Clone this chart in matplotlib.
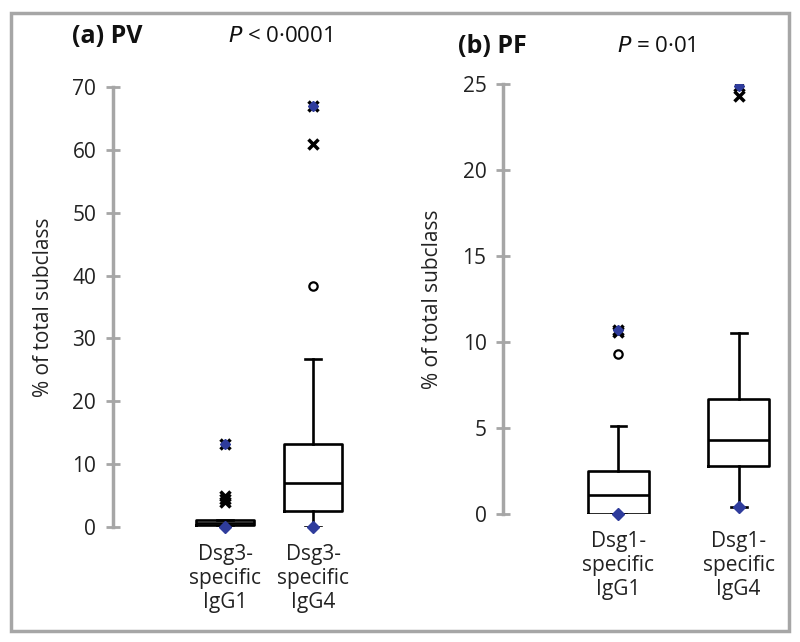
import matplotlib.pyplot as plt
from matplotlib.patches import Rectangle

plt.rcParams['font.family'] = ['Open Sans', 'DejaVu Sans']

# Panel (a) PV: box summaries
pv_labels = ["Dsg3-\nspecific\nIgG1", "Dsg3-\nspecific\nIgG4"]
pv_q1 = [0.4, 2.5]
pv_med = [0.7, 7.0]
pv_q3 = [1.1, 13.2]
pv_whislo = [0.0, 0.0]
pv_whishi = [1.1, 26.7]
pv_min = [0.0, 0.0]
pv_max = [13.2, 67.0]
pv_circles = [[], [38.3]]
pv_crosses = [[4.0, 4.5, 5.0], [61.0]]

# Panel (b) PF
pf_labels = ["Dsg1-\nspecific\nIgG1", "Dsg1-\nspecific\nIgG4"]
pf_q1 = [0.0, 2.8]
pf_med = [1.1, 4.3]
pf_q3 = [2.5, 6.7]
pf_whislo = [0.0, 0.4]
pf_whishi = [5.1, 10.5]
pf_min = [0.0, 0.4]
pf_max = [10.7, 24.9]
pf_circles = [[9.3], []]
pf_crosses = [[10.6], [24.3]]

blue = "#2f3c9c"
gray = "#a6a6a6"
ink = "#222222"

fig = plt.figure(figsize=(8, 6.42), dpi=100)
fig.patches.append(Rectangle((0.014, 0.017), 0.972, 0.963, transform=fig.transFigure,
                             fill=False, edgecolor=gray, linewidth=2.5))


def panel(rect, labels, q1, med, q3, wlo, whi, mins, maxs, circles, crosses,
          ymax, step, xlim, width, capw, tag, ptext, ptx, ylabel_x):
    ax = fig.add_axes(rect)
    stats = [dict(q1=a, med=m, q3=b, whislo=lo, whishi=hi, fliers=[], label=l)
             for a, m, b, lo, hi, l in zip(q1, med, q3, wlo, whi, labels)]
    lw = 1.9
    ax.bxp(stats, positions=[1, 2], widths=width, capwidths=capw, showfliers=False,
           boxprops=dict(color="black", linewidth=lw),
           medianprops=dict(color="black", linewidth=lw),
           whiskerprops=dict(color="black", linewidth=lw),
           capprops=dict(color="black", linewidth=lw))
    for i in range(2):
        x = i + 1
        if circles[i]:
            ax.plot([x] * len(circles[i]), circles[i], "o", mfc="white", mec="black",
                    mew=1.6, ms=6, zorder=4)
        if crosses[i]:
            ax.plot([x] * len(crosses[i]), crosses[i], "x", color="black",
                    mew=2.5, ms=7, zorder=4)
        ax.plot(x, maxs[i], "x", color="black", mew=2.5, ms=7, zorder=5)
        ax.plot(x, maxs[i], "D", color=blue, ms=5, zorder=6)
        ax.plot(x, mins[i], "D", color=blue, ms=6, zorder=6, clip_on=False)
    ax.set_xlim(*xlim)
    ax.set_ylim(0, ymax)
    ax.set_yticks(range(0, ymax + 1, step))
    for s in ["top", "right", "bottom"]:
        ax.spines[s].set_visible(False)
    ax.spines["left"].set_color(gray)
    ax.spines["left"].set_linewidth(2.5)
    ax.tick_params(axis="y", direction="inout", length=10, width=2, color=gray,
                   labelsize=15, pad=7, labelcolor=ink)
    ax.tick_params(axis="x", length=0, labelsize=15, pad=12, labelcolor=ink)
    for t in ax.get_xticklabels():
        t.set_linespacing(1.2)
    fig.text(ylabel_x, rect[1] + rect[3] * 0.5, "% of total subclass", rotation=90,
             ha="center", va="center", fontsize=15, color=ink)
    fig.text(tag[0], tag[1], tag[2], fontsize=18, fontweight="bold", ha="left",
             va="center", color="#111111")
    fig.text(ptx[0], ptx[1], ptext, fontsize=16, ha="center", va="center",
             color="#111111")
    return ax


panel([0.141, 0.179, 0.309, 0.6854], pv_labels, pv_q1, pv_med, pv_q3, pv_whislo,
      pv_whishi, pv_min, pv_max, pv_circles, pv_crosses, 70, 10, (-0.273, 2.53), 0.66,
      0.18, (0.09, 0.943, "(a) PV"), r"$P$ < 0·0001", (0.35, 0.943), 0.055)

panel([0.629, 0.1994, 0.359, 0.6698], pf_labels, pf_q1, pf_med, pf_q3, pf_whislo,
      pf_whishi, pf_min, pf_max, pf_circles, pf_crosses, 25, 5, (0.042, 2.43), 0.51,
      0.13, (0.572, 0.928, "(b) PF"), r"$P$ = 0·01", (0.82, 0.928), 0.541)

fig.savefig("out.png", dpi=100)
